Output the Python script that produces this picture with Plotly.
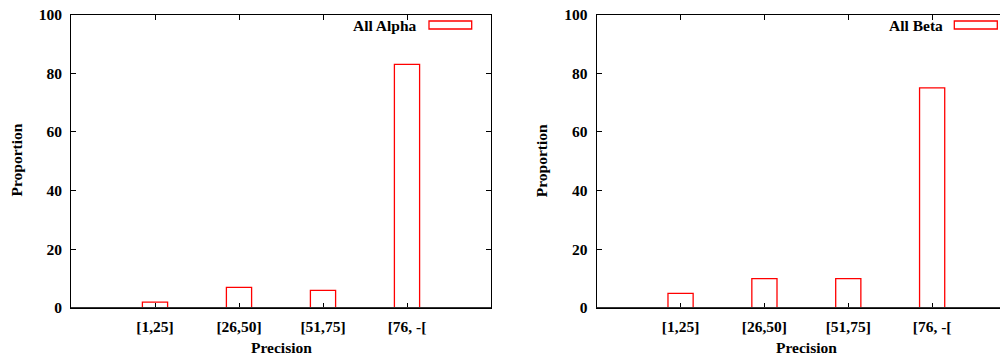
import plotly.graph_objects as go

categories = ["[1,25]", "[26,50]", "[51,75]", "[76, -["]
alpha_values = [2, 7, 6, 83]
beta_values = [5, 10, 10, 75]
y_ticks = [0, 20, 40, 60, 80, 100]

W, H = 1008, 360
OX, OY = 8, 8  # page body margin offset
FONT = "Liberation Serif, Times New Roman, serif"
FS = 15.5
RED = "#ff0000"


def px(x):
    return (x - OX) / W


def py(y):
    return 1 - (y - OY) / H


fig = go.Figure()
fig.add_trace(go.Bar(x=categories, y=alpha_values, width=0.3, name="All Alpha",
                     marker=dict(color="rgba(0,0,0,0)", line=dict(color=RED, width=1.3)),
                     xaxis="x", yaxis="y", showlegend=False))
fig.add_trace(go.Bar(x=categories, y=beta_values, width=0.3, name="All Beta",
                     marker=dict(color="rgba(0,0,0,0)", line=dict(color=RED, width=1.3)),
                     xaxis="x2", yaxis="y2", showlegend=False))

ydom = [py(308), py(14.5)]
left_dom = [px(71), px(491)]
right_dom = [px(596.7), 1.0]

xcommon = dict(type="category", categoryorder="array", categoryarray=categories,
               showline=True, linecolor="black", linewidth=1, mirror="ticks",
               ticks="inside", ticklen=5, tickcolor="black", tickwidth=1,
               showgrid=False, zeroline=False, ticklabelstandoff=4, automargin=False,
               ticklabeloverflow="allow",
               tickfont=dict(family=FONT, size=FS, color="black", weight="bold"))
ycommon = dict(range=[0, 100], tickvals=y_ticks,
               showline=True, linecolor="black", linewidth=1, mirror="ticks",
               ticks="inside", ticklen=5, tickcolor="black", tickwidth=1,
               showgrid=False, zeroline=False, ticklabelstandoff=5, automargin=False,
               ticklabeloverflow="allow",
               tickfont=dict(family=FONT, size=FS, color="black", weight="bold"))

fig.update_layout(
    width=W, height=H, margin=dict(l=0, r=0, t=0, b=0, autoexpand=False),
    paper_bgcolor="white", plot_bgcolor="white",
    xaxis=dict(domain=left_dom, range=[-1, 4], anchor="y", **xcommon),
    yaxis=dict(domain=ydom, anchor="x", **ycommon),
    xaxis2=dict(domain=right_dom, range=[-1, 4], anchor="y2", **xcommon),
    yaxis2=dict(domain=ydom, anchor="x2", **ycommon),
)

# thicker baseline
for xr, yr in (("x domain", "y"), ("x2 domain", "y2")):
    fig.add_shape(type="line", xref=xr, yref=yr, x0=0, x1=1, y0=0, y1=0,
                  line=dict(color="#333333", width=2), layer="above")

tfont = dict(family=FONT, size=FS, color="black", weight="bold")
# axis titles
for cx in (16, 541.7):
    fig.add_annotation(text="Proportion", xref="paper", yref="paper",
                       x=px(cx), y=py(160.5), showarrow=False, textangle=-90,
                       font=tfont, xanchor="center", yanchor="middle")
for cx in (281, 806.7):
    fig.add_annotation(text="Precision", xref="paper", yref="paper",
                       x=px(cx), y=py(347), showarrow=False,
                       font=tfont, xanchor="center", yanchor="middle")

# legends (key text + sample box)
legends = [("All Alpha", 419, 429, 471.7), ("All Beta", 945, 954.3, 997.3)]
for label, text_right, sx0, sx1 in legends:
    fig.add_annotation(text=label, xref="paper", yref="paper",
                       x=px(text_right), y=py(25), showarrow=False,
                       font=tfont, xanchor="right", yanchor="middle")
    fig.add_shape(type="rect", xref="paper", yref="paper",
                  x0=px(sx0), x1=px(sx1), y0=py(29), y1=py(21),
                  line=dict(color=RED, width=1.3), fillcolor="rgba(0,0,0,0)")

fig.write_html("out.html")
